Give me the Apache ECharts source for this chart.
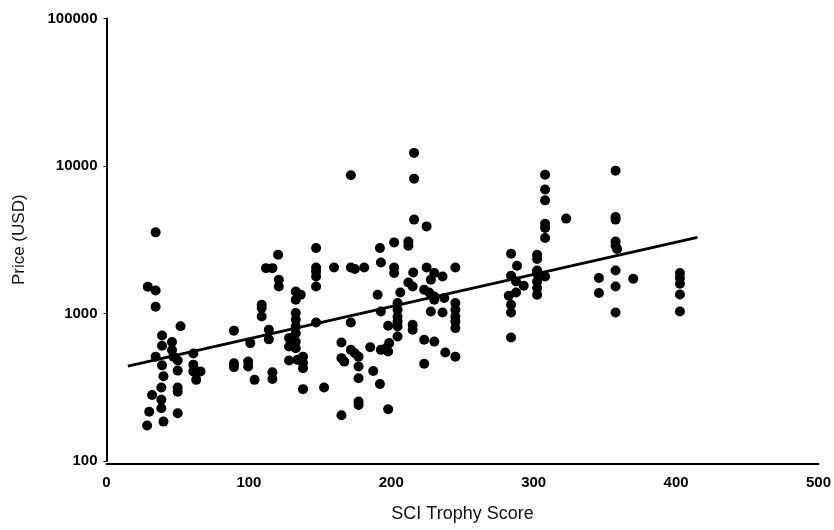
<!DOCTYPE html>
<html>
<head>
<meta charset="utf-8">
<script src="https://cdn.jsdelivr.net/npm/echarts@6/dist/echarts.min.js"></script>
<style>
html,body{margin:0;padding:0;background:#fff;}
#chart{width:834px;height:530px;}
</style>
</head>
<body>
<div id="chart"></div>
<script>
// SCI Trophy Score (x) and Price in USD (y)
var scores = [
  34.5,29,34.5,34.5,52,39,46,39,46,34.5,47,61,39,50,50,61,61,66,63,40,38.5,50,50,32,38.5,38.5,30,50,40,28.5,89.5,89.5,89.5,
  101,99.5,99.5,104,109,109,109,112,116.5,114,114,116.5,116.5,120.5,121,121,
  216,171.6,216,216,224.8,147.2,192,202,212,212,
  147.2,147.2,147.2,147.2,159.8,171.6,174.4,181,192.7,202,202,215.4,224.8,245,230.2,236,212,215,227.8,223.1,226.6,230.2,230.2,237.2,
  132.9,136.4,132.9,190.4,206.3,
  245,245,245,245,245,
  204.4,204.4,204.4,204.4,204.4,204.4,
  227.8,236,192.7,
  132.9,132.9,132.9,132.9,132.9,132.9,
  147.2,171.6,215,215,197.8,
  128.2,128.2,223.1,230.2,165,171.6,174.4,185.2,192.7,196.2,198.5,197.8,237.9,245,
  128.2,134.1,138,138,138,165,167,177,177,223.1,187.3,177,192,138,152.8,177,177,197.8,165,
  308,308,308,357.5,322.8,308,308,308,357.5,357.5,357.5,357.5,358.6,284.1,302.4,302.4,288.3,284.1,302.4,302.4,308,287.6,293,302.4,302.4,302.4,287.6,282.5,284.1,284.1,284.1,345.8,345.8,357.5,357.5,357.5,369.9,402.7,402.7,402.7,402.7,402.7
];
var prices = [
  3550,1520,1430,1110,820,710,640,605,565,510,510,535,445,480,410,450,405,405,355,375,315,315,295,280,260,228,216,211,185,174,765,460,433,
  630,472,437,355,1146,1089,955,2030,2030,775,668,399,360,2500,1694,1525,
  12270,8650,8210,4330,3895,2780,2780,3034,3080,2883,
  2053,1928,1783,1525,2053,2053,2001,2053,2220,2053,1881,1898,2053,2053,1881,1783,1624,1525,1694,1449,1389,1305,1239,1272,
  1410,1340,1239,1340,1389,
  1177,1060,955,883,796,
  1177,1060,955,883,816,698,
  1032,1016,1032,
  1006,906,816,736,645,582,
  869,869,838,775,825,
  681,597,663,645,636,567,538,591,567,582,630,552,544,510,
  480,485,510,461,426,498,472,510,437,456,408,364,333,307,315,253,240,224,204,
  8740,6920,5850,9300,4400,4064,3800,3250,4510,4330,3080,2883,2737,2543,2503,2340,2108,1803,1959,1860,1783,1649,1542,1649,1487,1340,1389,1319,1146,1016,687,1739,1376,1959,1525,1016,1720,1881,1739,1591,1346,1032
];
// fitted regression line end points
var fitScores = [15, 415];
var fitPrices = [440, 3280];
var xTicks = [0, 100, 200, 300, 400, 500];
var yTicks = [100, 1000, 10000, 100000];

var points = [];
for (var i = 0; i < Math.min(scores.length, prices.length); i++) points.push([scores[i], prices[i]]);
var fit = fitScores.map(function (s, i) { return [s, fitPrices[i]]; });

var chart = echarts.init(document.getElementById('chart'), null, {renderer: 'canvas'});
chart.setOption({
  animation: false,
  backgroundColor: '#ffffff',
  grid: {left: 106.5, right: 15.5, top: 18.5, bottom: 69, containLabel: false},
  xAxis: {
    type: 'value',
    min: xTicks[0], max: xTicks[xTicks.length - 1], interval: 100,
    offset: 3,
    name: 'SCI Trophy Score', nameLocation: 'middle', nameGap: 41,
    nameTextStyle: {fontFamily: 'Liberation Sans', fontSize: 18, color: '#111'},
    axisLine: {show: true, lineStyle: {color: '#000', width: 2}},
    axisTick: {show: false},
    splitLine: {show: false},
    axisLabel: {fontFamily: 'Liberation Sans', fontWeight: 'bold', fontSize: 15, color: '#000', margin: 11}
  },
  yAxis: {
    type: 'log', logBase: 10,
    min: yTicks[0], max: yTicks[yTicks.length - 1], splitNumber: 3,
    offset: 3,
    name: 'Price (USD)', nameLocation: 'middle', nameGap: 76,
    nameTextStyle: {fontFamily: 'Liberation Sans', fontSize: 17, color: '#111'},
    axisLine: {show: true, lineStyle: {color: '#000', width: 2}},
    axisTick: {show: true, length: 3, lineStyle: {color: '#000', width: 1}},
    splitLine: {show: false},
    axisLabel: {
      fontFamily: 'Liberation Sans', fontWeight: 'bold', fontSize: 15, color: '#000', margin: 6,
      formatter: function (v) { return String(Math.round(v)); }
    }
  },
  series: [
    {
      type: 'scatter', data: points, symbol: 'circle', symbolSize: 10,
      itemStyle: {color: '#000', opacity: 1}
    },
    {
      type: 'line', data: fit, symbol: 'none', silent: true,
      lineStyle: {color: '#000', width: 3}
    }
  ]
});
</script>
</body>
</html>
